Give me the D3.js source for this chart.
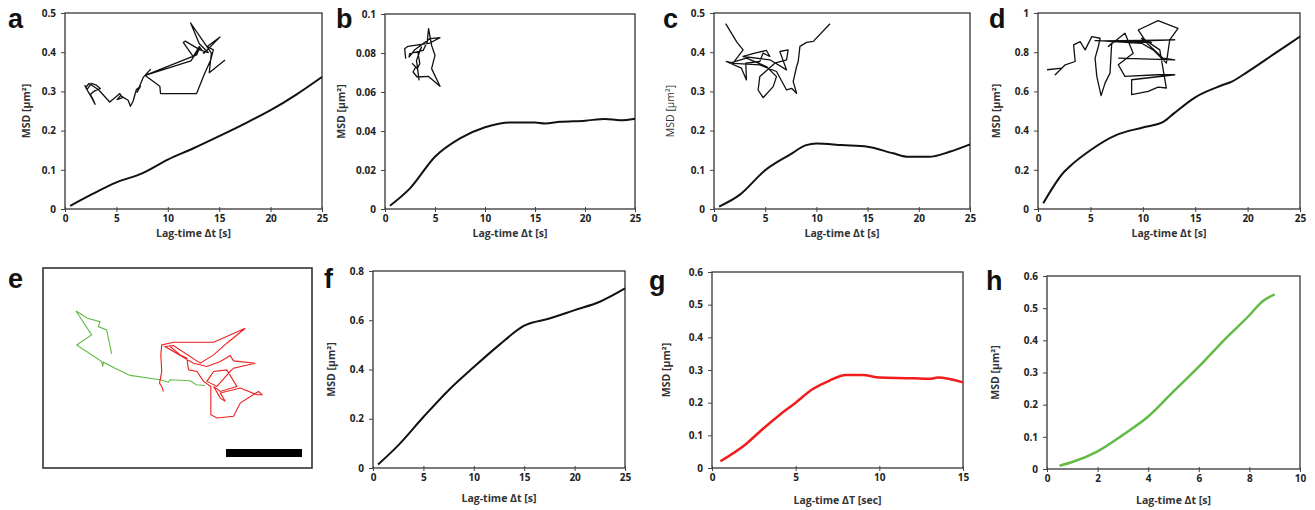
<!DOCTYPE html>
<html>
<head>
<meta charset="utf-8">
<script src="https://cdn.jsdelivr.net/npm/d3@7"></script>
<style>
  body { margin: 0; background: #fff; }
  .tick text { font-family: "Open Sans", sans-serif; font-weight: bold; font-size: 10px; fill: #222; }
  .axtitle { font-family: "Open Sans", sans-serif; font-weight: bold; font-size: 10.5px; fill: #333; }
  .plabel { font-family: "Liberation Sans", Arial, sans-serif; font-weight: bold; font-size: 27px; fill: #111; }
</style>
</head>
<body>
<div id="fig"></div>
<script>
// MSD curves, lag-time (s) vs MSD (um^2)
const lagA = [0.5, 2.5, 5, 7.5, 10, 12.5, 15, 17.5, 20, 22.5, 25];
const msdA = [0.008, 0.036, 0.068, 0.091, 0.126, 0.155, 0.186, 0.218, 0.252, 0.292, 0.337];

const lagB = [0.5, 2.5, 5, 7.5, 10, 12.5, 15, 16, 17.5, 20, 22, 23.5, 25];
const msdB = [0.0017, 0.0106, 0.0268, 0.0362, 0.0419, 0.0444, 0.0444, 0.0439, 0.0447, 0.0453, 0.0462, 0.0455, 0.0463];

const lagC = [0.5, 2.5, 5, 7.5, 9, 10, 12.5, 15, 17.5, 19, 21, 23, 25];
const msdC = [0.006, 0.036, 0.099, 0.14, 0.163, 0.167, 0.163, 0.159, 0.142, 0.133, 0.133, 0.146, 0.165];

const lagD = [0.5, 2.5, 3, 5, 7.5, 10, 12, 13, 15, 17.5, 18.5, 20, 22.5, 25];
const msdD = [0.029, 0.19, 0.216, 0.30, 0.378, 0.416, 0.446, 0.489, 0.57, 0.63, 0.65, 0.70, 0.79, 0.88];

const lagF = [0.5, 2.5, 5, 7.5, 10, 12.5, 15, 17.5, 20, 22.5, 25];
const msdF = [0.014, 0.092, 0.207, 0.316, 0.41, 0.499, 0.578, 0.607, 0.641, 0.675, 0.729];

const lagG = [0.5, 2, 3, 4, 5, 6, 7, 8, 9, 10, 12, 13, 13.5, 15];
const msdG = [0.0205, 0.072, 0.118, 0.161, 0.2, 0.241, 0.267, 0.285, 0.285, 0.277, 0.275, 0.273, 0.277, 0.262];

const lagH = [0.5, 1, 2, 3, 4, 5, 6, 7, 8, 8.5, 9];
const msdH = [0.0103, 0.0217, 0.055, 0.106, 0.163, 0.241, 0.318, 0.401, 0.478, 0.52, 0.543];

// tick values
const xTicks25 = [0, 5, 10, 15, 20, 25];
const xTicks15 = [0, 5, 10, 15];
const xTicks10 = [0, 2, 4, 6, 8, 10];
const yTicksA = [0, 0.1, 0.2, 0.3, 0.4, 0.5];
const yTicksB = [0, 0.02, 0.04, 0.06, 0.08, 0.1];
const yTicksD = [0, 0.2, 0.4, 0.6, 0.8, 1];
const yTicksF = [0, 0.2, 0.4, 0.6, 0.8];
const yTicksG = [0, 0.1, 0.2, 0.3, 0.4, 0.5, 0.6];

// particle trajectories (normalised units 0-100, y up)
const trajA = [[1.2,26],[2.8,20.8],[5.9,28],[9.4,26],[12.2,22],[8.2,19.2],[5.2,15.2],[7.1,8.8],[8.5,3.2],[6.1,11.2],
  [1.9,23.2],[4.2,28],[10.8,20.8],[18.8,6],[23.1,12],[25.9,16],[27.8,11.2],[24,8.8],[26.4,13.6],[31.8,8],[33.4,0.8],
  [35.3,7.2],[37.6,20.8],[40.5,24.8],[38.1,17.6],[42.4,35.2],[47.5,44.8],[43.8,37.6],[76,55],[82,70],[80,62],[43.8,37.6],
  [54.1,24.8],[54.6,16],[80,16],[85.2,38],[89.9,56],[91.8,68],[87.5,72],[96.5,83.2],[93.6,78.4],[85.2,64],[81.9,72],
  [77.6,60],[70.6,76.8],[72,78.4],[82.4,68],[88.2,64.8],[81.9,75.2],[75.8,100],[85.2,76.8],[90.4,64],[88.9,40.8],[100,56]];
const trajB = [[7.3,47.2],[4.5,63.9],[13.6,67.8],[72.7,73.3],[100,82.2],[72.7,80.6],[31.8,62.2],[16.4,50],[18.2,55.6],
  [54.5,61.1],[65.5,75],[69.1,97.2],[77.3,69.4],[86.4,52.8],[77.3,30.6],[100,1.1],[68.2,17.8],[38.2,16.7],[27.3,25],
  [34.5,33.3],[25.5,38.9],[38.2,30.6],[45.5,38.9],[40.9,55.6],[50,66.7],[36.4,44.4],[43.6,11.1]];
const trajC = [[2.5,99.1],[13.1,74.8],[18.8,65.2],[9.4,47.8],[3.1,50],[17.2,41.3],[21.9,26.1],[21.3,47.8],[34.4,50],
  [37.5,60.9],[43.8,56.5],[40.6,64.3],[29.7,60.9],[18.8,56.5],[43.8,52.2],[59.4,39.1],[53.1,63],[60.9,65.2],[59.4,52.2],
  [48.4,47.8],[34.4,30.4],[32.8,13],[37.5,3],[46.9,17.4],[50,30.4],[40.6,43.5],[21.9,54.3],[6.3,47.8],[34.4,45.7],
  [50,37],[59.4,13],[64.1,15.2],[68.8,8.7],[65.6,23.9],[68.8,43.5],[70.3,50],[71.9,69.6],[78.1,74.8],[84.4,76.1],[100,99.1]];
const trajD = [[0,36.2],[11.4,38.3],[6.3,29.8],[13.9,42.6],[21.5,46.8],[20.3,68.1],[25.3,72.3],[29.1,61.7],[34.2,78.7],
  [40.5,76.6],[39.2,66],[36.7,51.1],[38,27.7],[41.3,3],[44.3,19.1],[48.1,31.9],[49.4,70.2],[46.8,66],[59.5,83],[65.8,57.4],
  [54.4,42.6],[59.5,27.7],[84.8,29.8],[97.5,29.8],[64.6,23.4],[64.6,4.3],[77.2,8.5],[84.8,14],[91.1,12.8],[86.1,61.7],
  [74.7,74.5],[69.6,87.2],[84.8,99.1],[100,89.4],[93.7,74.5],[91.1,44.7],[81,61.7],[72.2,70.2],[41.8,73.2],[97.5,74.5],
  [57,72.3],[36.7,73.6],[79.7,71.1],[72.2,76.6],[88.6,51.1],[97.5,48.9],[54.4,51.1]];
const trajGreen = [[19.2,59.9],[17.4,74.5],[16.5,82.3],[12,85.4],[12.9,90.1],[6.1,93.2],[0,100],[8.4,77.6],[0.4,68.3],
  [13.8,52.8],[14.4,48.1],[14.7,52.2],[21,46.6],[29.1,39.8],[45.2,35.7],[49.7,33.5],[50.6,35.7],[61.4,34.8],[64.6,31.1],[69.5,30.4]];
const trajRed = [[47,24.8],[46.1,29.5],[44.9,32.6],[46.1,43.5],[45.6,59],[46.1,68.3],[52.4,70.8],[66.8,70.8],[74,70.8],
  [91,83.9],[81.1,69.9],[74,59],[66.8,51.2],[52.4,67.7],[47.9,66.8],[63.2,51.2],[70.4,48.1],[77.6,52.8],[82.9,58.4],
  [84.7,53.4],[96.4,51.2],[84.7,46.6],[82.9,43.5],[75.8,29.5],[70.4,34.2],[74,43.5],[81.1,45],[86.5,29.5],[77.6,24.8],
  [74,29.5],[77.6,18.6],[80.3,15.5],[77.6,23.3],[88.3,28],[97.3,21.7],[100,21.7],[98.2,24.8],[95.9,22.4],[88.3,14],
  [84.7,1.6],[75.8,0],[72.5,3.1],[72.5,29.5],[68.6,34.2],[65,43.5],[60.5,45],[59.6,55.9],[56,59],[50.6,66.8]];

const svg = d3.select("#fig").append("svg").attr("width", 1315).attr("height", 510);

const BLACK = "#111", RED = "#f01d1d", GREEN = "#62bb46";
const fmt = d3.format("~g");

const panels = [
  { id: "a", box: [65, 322, 13, 209], xmax: 25, xt: xTicks25, yt: yTicksA, lag: lagA, msd: msdA, color: BLACK, w: 2,
    lab: [8, 28], ytx: 30, xtitle: "Lag-time Δt [s]", xty: 237, traj: trajA, inset: [83, 225, 23, 107] },
  { id: "b", box: [385, 635, 14, 209], xmax: 25, xt: xTicks25, yt: yTicksB, lag: lagB, msd: msdB, color: BLACK, w: 2,
    lab: [336, 28], ytx: 345, xtitle: "Lag-time Δt [s]", xty: 237, traj: trajB, inset: [403, 440, 27, 87] },
  { id: "c", box: [714, 970, 13, 209], xmax: 25, xt: xTicks25, yt: yTicksA, lag: lagC, msd: msdC, color: BLACK, w: 2,
    lab: [663, 28], ytx: 674, xtitle: "Lag-time Δt [s]", xty: 237, traj: trajC, inset: [723, 830, 23, 100], light: true },
  { id: "d", box: [1038, 1300, 13, 209], xmax: 25, xt: xTicks25, yt: yTicksD, lag: lagD, msd: msdD, color: BLACK, w: 2,
    lab: [989, 28], ytx: 1000, xtitle: "Lag-time Δt [s]", xty: 237, traj: trajD, inset: [1047, 1178, 20, 98] },
  { id: "f", box: [373, 625, 271, 468], xmax: 25, xt: xTicks25, yt: yTicksF, lag: lagF, msd: msdF, color: BLACK, w: 2,
    lab: [324, 288], ytx: 335, xtitle: "Lag-time Δt [s]", xty: 502 },
  { id: "g", box: [712, 963, 272, 468], xmax: 15, xt: xTicks15, yt: yTicksG, lag: lagG, msd: msdG, color: RED, w: 2.5,
    lab: [649, 290], ytx: 670, xtitle: "Lag-time ΔT [sec]", xty: 504 },
  { id: "h", box: [1047, 1300, 276, 469], xmax: 10, xt: xTicks10, yt: yTicksG, lag: lagH, msd: msdH, color: GREEN, w: 2.5,
    lab: [986, 290], ytx: 999, xtitle: "Lag-time Δt [s]", xty: 504 }
];

panels.forEach(p => {
  const [x0, x1, y0, y1] = p.box;
  const x = d3.scaleLinear().domain([0, p.xmax]).range([x0, x1]);
  const y = d3.scaleLinear().domain([0, d3.max(p.yt)]).range([y1, y0]);
  const g = svg.append("g");

  // frame
  g.append("rect").attr("x", x0).attr("y", y0).attr("width", x1 - x0).attr("height", y1 - y0)
    .attr("fill", "none").attr("stroke", "#444").attr("stroke-width", 1.4);

  g.append("g").attr("transform", `translate(0,${y1})`)
    .call(d3.axisBottom(x).tickValues(p.xt).tickFormat(fmt).tickSize(3).tickPadding(3))
    .call(a => a.select(".domain").remove())
    .call(a => a.selectAll("line").attr("stroke", "#444").attr("y1", -2));
  g.append("g").attr("transform", `translate(${x0},0)`)
    .call(d3.axisLeft(y).tickValues(p.yt).tickFormat(fmt).tickSize(4).tickPadding(5))
    .call(a => a.select(".domain").remove())
    .call(a => a.selectAll("line").attr("stroke", "#444"));

  g.append("text").attr("class", "axtitle").attr("x", (x0 + x1) / 2).attr("y", p.xty)
    .attr("text-anchor", "middle").text(p.xtitle);
  g.append("text").attr("class", "axtitle")
    .attr("transform", `translate(${p.ytx},${(y0 + y1) / 2}) rotate(-90)`)
    .attr("text-anchor", "middle").style("font-weight", p.light ? "normal" : "bold")
    .text("MSD [µm²]");

  g.append("text").attr("class", "plabel").attr("x", p.lab[0]).attr("y", p.lab[1]).text(p.id);

  const pts = p.lag.map((t, i) => [t, p.msd[i]]);
  g.append("path").datum(pts)
    .attr("fill", "none").attr("stroke", p.color).attr("stroke-width", p.w).attr("stroke-linejoin", "round")
    .attr("d", d3.line().x(d => x(d[0])).y(d => y(d[1])).curve(d3.curveMonotoneX));

  if (p.traj) {
    const [ix0, ix1, iy0, iy1] = p.inset;
    const tx = d3.scaleLinear().domain([0, 100]).range([ix0, ix1]);
    const ty = d3.scaleLinear().domain([0, 100]).range([iy1, iy0]);
    g.append("path").datum(p.traj)
      .attr("fill", "none").attr("stroke", BLACK).attr("stroke-width", 1.3).attr("stroke-linejoin", "round")
      .attr("d", d3.line().x(d => tx(d[0])).y(d => ty(d[1])));
  }
});

// panel e: trajectory image with scale bar
const eBox = [43, 312, 268, 468];
const eg = svg.append("g");
eg.append("rect").attr("x", eBox[0]).attr("y", eBox[2]).attr("width", eBox[1] - eBox[0]).attr("height", eBox[3] - eBox[2])
  .attr("fill", "#fff").attr("stroke", "#333").attr("stroke-width", 1.6);
eg.append("text").attr("class", "plabel").attr("x", 8).attr("y", 288).text("e");
const ex = d3.scaleLinear().domain([0, 100]).range([76, 262]);
const ey = d3.scaleLinear().domain([0, 100]).range([418, 311]);
const eline = d3.line().x(d => ex(d[0])).y(d => ey(d[1]));
eg.append("path").datum(trajGreen).attr("fill", "none").attr("stroke", GREEN).attr("stroke-width", 1.1).attr("d", eline);
eg.append("path").datum(trajRed).attr("fill", "none").attr("stroke", RED).attr("stroke-width", 1.1).attr("d", eline);
eg.append("rect").attr("x", 226).attr("y", 449).attr("width", 76).attr("height", 8).attr("fill", "#000");
</script>
</body>
</html>
